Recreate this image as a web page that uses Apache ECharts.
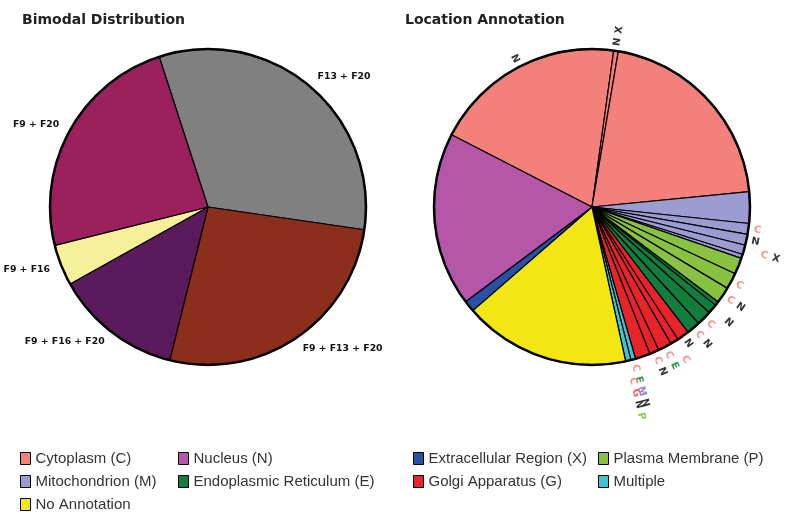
<!DOCTYPE html>
<html>
<head>
<meta charset="utf-8">
<script src="https://cdn.jsdelivr.net/npm/echarts@6/dist/echarts.min.js"></script>
<style>
html,body{margin:0;padding:0;background:#fff;}
#chart{width:800px;height:523px;}
</style>
</head>
<body>
<div id="chart"></div>
<script>
// ---- Left pie: Bimodal Distribution ----
const leftNames = ['F13 + F20', 'F9 + F13 + F20', 'F9 + F16 + F20', 'F9 + F16', 'F9 + F20'];
const leftValues = [32.3, 26.6, 13.0, 4.2, 23.9];
const leftColors = ['#808080', '#8C2E1C', '#5A1A5C', '#F7F09A', '#9C1F5E'];

// ---- Right pie: Location Annotation ----
const locNames = ['Cytoplasm (C)', 'Nucleus (N)', 'Extracellular Region (X)', 'Plasma Membrane (P)',
                  'Mitochondrion (M)', 'Endoplasmic Reticulum (E)', 'Golgi Apparatus (G)', 'Multiple', 'No Annotation'];
const locColors = ['#F3807A', '#B656A8', '#2A50A6', '#88C240', '#9C9CD2', '#117E3E', '#E8232A', '#40C4D2', '#F2E614'];
// slices in clockwise order (index into locNames)
const sliceLoc    = [0, 0, 0, 4, 4, 4, 4, 4, 3, 3, 3, 5, 5, 5, 5, 6, 6, 6, 6, 6, 7, 7, 8, 2, 1];
const sliceLabels = ['N', 'NX', '', '', 'C', 'N', ' CX', '', '', 'C', 'CN', '', ' N', 'C', 'CN', 'N', ' C', 'CE', 'CN', '', 'CEMN', ' CGNP', '', '', ''];
const sliceValues = [70.7, 1.7, 74.8, 11.6, 4, 4, 3.5, 1.5, 6, 6, 6, 1.5, 3.5, 5.5, 5, 4.5, 3, 5, 3.5, 5.5, 1.7, 2, 61.3, 4.2, 64];
// letter colours for the small slice labels
const letterColors = {C: '#F4948C', N: '#333333', X: '#333333', E: '#2E9A4A', M: '#8A8AD8', P: '#8CC850', G: '#E8606A'};

// legend columns
const legendCols = [
  ['Cytoplasm (C)', 'Mitochondrion (M)', 'No Annotation'],
  ['Nucleus (N)', 'Endoplasmic Reticulum (E)'],
  ['Extracellular Region (X)', 'Golgi Apparatus (G)'],
  ['Plasma Membrane (P)', 'Multiple']
];
const legendLeft = [15, 173, 408, 593];

const FONT = '"DejaVu Sans", Verdana, sans-serif';
const LFONT = '"Liberation Sans", Arial, Helvetica, sans-serif';

const chart = echarts.init(document.getElementById('chart'), null, {renderer: 'canvas'});

const leftData = leftNames.map((n, i) => ({
  name: n, value: leftValues[i],
  itemStyle: {color: leftColors[i]}
}));

const rightData = sliceValues.map((v, i) => ({
  name: locNames[sliceLoc[i]],
  value: v,
  lab: sliceLabels[i],
  itemStyle: {color: locColors[sliceLoc[i]]}
}));

const rich = {sp: {width: 12, fontSize: 9}};
Object.keys(letterColors).forEach(k => {
  rich[k] = {width: 12, align: 'center', color: letterColors[k], fontSize: 10, fontWeight: 'bold', fontFamily: FONT};
});

function fmtRight(p) {
  const s = p.data.lab || '';
  if (!s) return '';
  return s.split('').map(ch => ch === ' ' ? '{sp| }' : '{' + ch + '|' + ch + '}').join('');
}

const legends = legendCols.map((col, i) => ({
  orient: 'vertical',
  left: legendLeft[i],
  top: 446,
  itemWidth: 10,
  itemHeight: 12,
  itemGap: 8,
  icon: 'rect',
  selectedMode: false,
  data: col,
  textStyle: {fontSize: 15, color: '#333', fontFamily: LFONT},
  itemStyle: {borderColor: '#000', borderWidth: 1}
}));

chart.setOption({
  animation: false,
  title: [
    {text: 'Bimodal Distribution', left: 17, top: 8, textStyle: {fontSize: 14, fontWeight: 'bold', color: '#222', fontFamily: FONT}},
    {text: 'Location Annotation', left: 400, top: 8, textStyle: {fontSize: 14, fontWeight: 'bold', color: '#222', fontFamily: FONT}}
  ],
  legend: legends,
  series: [
    {
      type: 'pie',
      center: [208, 207],
      radius: [0, 158],
      startAngle: 108,
      clockwise: true,
      avoidLabelOverlap: false,
      data: leftData,
      itemStyle: {borderColor: '#000', borderWidth: 1.2},
      label: {
        show: true, position: 'outside', distanceToLabelLine: 0,
        fontSize: 9.3, fontWeight: 'bold', color: '#111', fontFamily: FONT,
        formatter: '{b}'
      },
      labelLine: {show: false, length: 12, length2: 0},
      labelLayout: {hideOverlap: false},
      emphasis: {disabled: true}
    },
    {
      type: 'pie',
      center: [208, 207],
      radius: [0, 158],
      silent: true,
      data: [{value: 1, name: '__ringL'}],
      itemStyle: {color: 'rgba(0,0,0,0)', borderColor: '#000', borderWidth: 2.5},
      label: {show: false}, labelLine: {show: false},
      emphasis: {disabled: true}
    },
    {
      type: 'pie',
      center: [592, 207],
      radius: [0, 158],
      startAngle: 152.8,
      clockwise: true,
      avoidLabelOverlap: false,
      data: rightData,
      itemStyle: {borderColor: '#000', borderWidth: 1.2},
      label: {
        show: true, position: 'outside', rotate: 'radial', distanceToLabelLine: 0,
        formatter: fmtRight, rich: rich, fontSize: 9
      },
      labelLine: {show: false, length: 3, length2: 0},
      labelLayout: {hideOverlap: false},
      emphasis: {disabled: true}
    },
    {
      type: 'pie',
      center: [592, 207],
      radius: [0, 158],
      silent: true,
      data: [{value: 1, name: '__ringR'}],
      itemStyle: {color: 'rgba(0,0,0,0)', borderColor: '#000', borderWidth: 2.5},
      label: {show: false}, labelLine: {show: false},
      emphasis: {disabled: true}
    }
  ]
});
</script>
</body>
</html>
